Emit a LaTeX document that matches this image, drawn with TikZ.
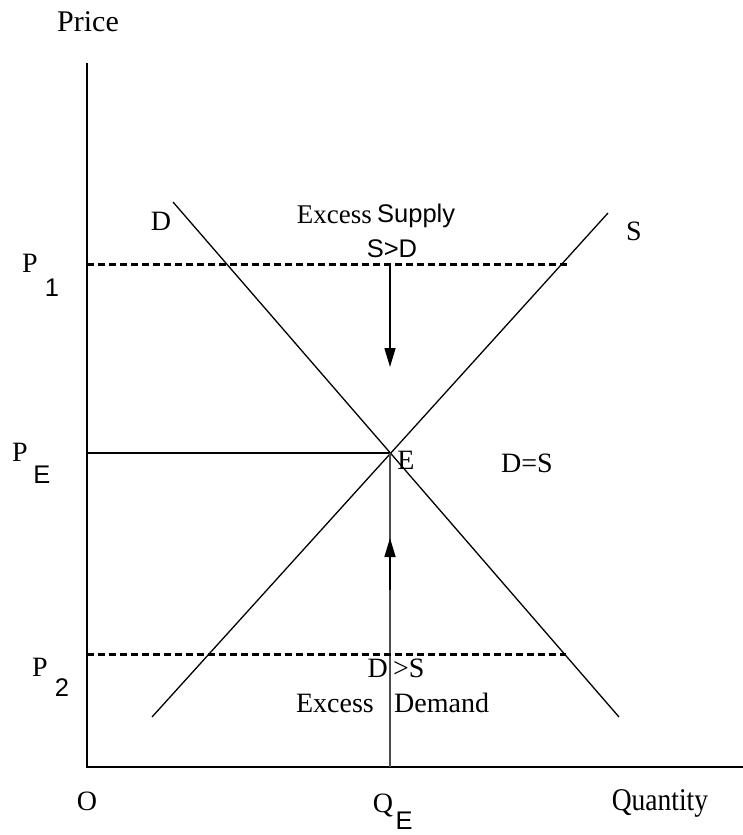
\documentclass[tikz,border=0pt]{standalone}
\usepackage{fontspec}
\setmainfont{Liberation Serif}
\newfontfamily\arialf{Liberation Sans}
\usetikzlibrary{arrows.meta}
\begin{document}
\begin{tikzpicture}[x=1pt,y=-1pt,
  lbl/.style={inner sep=0pt,font=\fontsize{28}{30}\selectfont},
  sublbl/.style={inner sep=0pt,font=\arialf\fontsize{25.5}{27}\selectfont},
  ax/.style={line width=1.5pt},
  curve/.style={line width=1.3pt},
  dashline/.style={line width=3pt,dash pattern=on 7pt off 4pt},
  arr/.style={line width=1.6pt,-{Triangle[length=19pt,width=11pt]}}]
\useasboundingbox (0,0) rectangle (743,835);
% axes
\coordinate (top) at (87,63);
\coordinate (O) at (87,767);
\coordinate (xend) at (743,767);
\draw[ax] (top) -- (O) -- (xend);
% curves
\coordinate (D1) at (173,202);
\coordinate (D2) at (619,717);
\coordinate (S1) at (152,717);
\coordinate (S2) at (608,213);
\draw[curve] (D1) -- (D2);
\draw[curve] (S1) -- (S2);
\coordinate (E) at (390,453);
\coordinate (PEa) at (87,453);
\coordinate (QEa) at (390,767);
\draw[curve] (PEa) -- (E);
\draw[line width=1.3pt,black!70] (E) -- (QEa);
% dashed price lines
\coordinate (P1a) at (87,264);
\coordinate (P1b) at (567,264);
\coordinate (P2a) at (87,654);
\coordinate (P2b) at (566,654);
\draw[dashline] (P1a) -- (P1b);
\draw[dashline] (P2a) -- (P2b);
% arrows
\coordinate (A1s) at (390,264);
\coordinate (A1e) at (390,367);
\coordinate (A2s) at (390,590);
\coordinate (A2e) at (390,538);
\draw[arr] (A1s) -- (A1e);
\draw[arr] (A2s) -- (A2e);
% labels
\node[lbl,font=\fontsize{30}{32}\selectfont] (price) at (88,22) {Price};
\node[lbl] (Dl) at (161,221) {D};
\node[lbl] (Sl) at (634,231) {S};
\node[lbl,font=\fontsize{27}{29}\selectfont,anchor=east] (exs) at (372,215) {Excess};
\node[sublbl,anchor=west] (sup) at (377,216) {Supply};
\node[sublbl] (sgd) at (392,249) {S>D};
\node[lbl] (P1) at (30,263) {P};
\node[sublbl] (P1s) at (52,288) {1};
\node[lbl] (PE) at (20,452) {P};
\node[sublbl] (PEs) at (42,475) {E};
\node[lbl] (P2) at (40,667) {P};
\node[sublbl] (P2s) at (62,688) {2};
\node[lbl] (El) at (406,460) {E};
\node[lbl] (DS) at (527,463) {D=S};
\node[lbl,anchor=east] (dgs1) at (388,668) {D};
\node[lbl,anchor=west] (dgs2) at (393,668) {>S};
\node[lbl,anchor=east] (exd1) at (374,703) {Excess};
\node[lbl,anchor=west] (exd2) at (394,703) {Demand};
\node[lbl] (Ol) at (87,801) {O};
\node[lbl] (Ql) at (383,805) {Q};
\node[sublbl] (Qs) at (404,821) {E};
\node[lbl,font=\fontsize{27.5}{29}\selectfont] (qty) at (660,803) {\scalebox{1}[1.15]{Quantity}};
\end{tikzpicture}
\end{document}
